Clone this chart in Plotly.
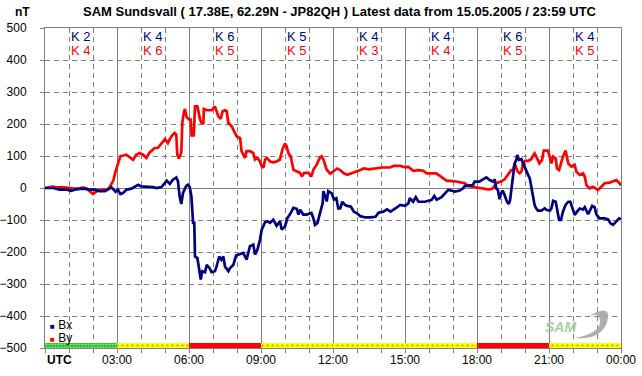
import plotly.graph_objects as go

# ---------------- data ----------------
by_hours = [0, 0.3, 0.45, 0.8, 1.2, 1.4, 1.6, 1.75, 2.0, 2.2, 2.4, 2.6, 2.7, 2.76, 2.85, 2.94, 3.0, 3.07, 3.14,
            3.39, 3.53, 3.67, 3.8, 3.94, 4.08, 4.22, 4.36, 4.57, 4.7, 4.85, 5.0, 5.12, 5.26, 5.4, 5.47, 5.51,
            5.58, 5.68, 5.72, 5.78, 5.83, 5.9, 6.0, 6.07, 6.11, 6.2, 6.25, 6.35, 6.39, 6.46, 6.53, 6.6, 6.62,
            6.74, 6.95, 7.08, 7.15, 7.22, 7.32, 7.4, 7.5, 7.57, 7.64, 7.78, 7.88, 7.99, 8.13, 8.19, 8.33, 8.4,
            8.54, 8.68, 8.75, 8.85, 8.96, 9.03, 9.1, 9.17, 9.24, 9.38, 9.51, 9.65, 9.79, 9.9, 10.0, 10.07,
            10.14, 10.24, 10.35, 10.49, 10.63, 10.7, 10.8, 10.97, 11.1, 11.18, 11.32, 11.46, 11.53, 11.6,
            11.74, 11.88, 12.0, 12.18, 12.3, 12.45, 12.6, 12.75, 12.94, 13.14, 13.28, 13.5, 13.77, 14.04,
            14.38, 14.52, 14.8, 15.0, 15.14, 15.35, 15.55, 15.76, 15.9, 16.1, 16.3, 16.45, 16.6, 16.73,
            17.08, 17.35, 17.49, 17.63, 17.9, 18.18, 18.45, 18.53, 18.67, 18.8, 19.0, 19.15, 19.3, 19.43,
            19.5, 19.57, 19.64, 19.7, 19.78, 19.85, 19.92, 20.0, 20.13, 20.26, 20.33, 20.4, 20.47, 20.54,
            20.6, 20.71, 20.78, 20.96, 21.03, 21.1, 21.17, 21.28, 21.33, 21.42, 21.5, 21.58, 21.69, 21.8,
            21.93, 22.07, 22.14, 22.28, 22.42, 22.49, 22.56, 22.69, 22.83, 23.04, 23.18, 23.32, 23.53,
            23.67, 23.8, 23.94, 24.0]
by_values = [0, 4, 3, 2, -2, -2, 2, -3, -19, -8, -5, -5, 3, 13, 24, 52, 66, 88, 99,
             104, 97, 88, 104, 109, 104, 94, 111, 125, 125, 140, 153, 140, 161, 172, 167, 104,
             92, 111, 203, 234, 247, 222, 214, 214, 164, 164, 255, 255, 242, 214, 203, 203, 247,
             243, 243, 255, 240, 224, 216, 240, 243, 240, 203, 193, 177, 161, 156, 115, 94, 115,
             115, 109, 89, 94, 83, 68, 63, 89, 94, 83, 80, 83, 89, 122, 139, 130,
             109, 99, 57, 52, 47, 36, 47, 47, 36, 57, 73, 96, 99, 89,
             57, 45, 52, 61, 56, 46, 41, 46, 51, 56, 61, 58, 61, 64,
             64, 69, 69, 65, 66, 54, 56, 54, 46, 46, 46, 38, 30, 23,
             21, 18, 15, 6, 2, -1, -4, -4, -1, 15, 20, 27, 41, 56,
             56, 77, 62, 51, 46, 51, 77, 85, 85, 90, 100, 108, 98, 88,
             77, 88, 117, 117, 98, 77, 98, 92, 61, 56, 77, 98, 117, 77,
             67, 72, 51, 41, 46, 35, 9, -1, 4, -6, 4, 15, 17,
             20, 25, 15, 8]

bx_hours = [0, 0.35, 0.5, 0.6, 0.9, 1.1, 1.25, 1.44, 1.7, 1.85, 2.07, 2.28, 2.5, 2.63, 2.77, 2.86, 2.94, 3.04,
            3.14, 3.25, 3.4, 3.6, 3.74, 3.88, 4.0, 4.22, 4.5, 4.64, 4.85, 5.0, 5.07, 5.2, 5.33, 5.47, 5.54,
            5.61, 5.68, 5.75, 5.82, 5.89, 5.96, 6.03, 6.1, 6.17, 6.22, 6.25, 6.35, 6.43, 6.49, 6.55, 6.67,
            6.74, 6.85, 6.94, 7.08, 7.15, 7.26, 7.35, 7.43, 7.5, 7.64, 7.71, 7.85, 7.96, 8.1, 8.26, 8.4,
            8.47, 8.54, 8.68, 8.75, 8.85, 8.96, 9.03, 9.17, 9.27, 9.38, 9.51, 9.65, 9.79, 9.86, 10.0, 10.1,
            10.2, 10.35, 10.49, 10.56, 10.63, 10.76, 10.9, 11.1, 11.18, 11.25, 11.35, 11.46, 11.57, 11.6,
            11.74, 11.8, 11.94, 12.04, 12.14, 12.22, 12.3, 12.39, 12.5, 12.6, 12.74, 12.87, 13.0, 13.14,
            13.35, 13.56, 13.77, 13.9, 14.1, 14.25, 14.4, 14.6, 14.8, 15.0, 15.14, 15.2, 15.34, 15.45,
            15.56, 15.7, 15.83, 15.97, 16.1, 16.22, 16.32, 16.52, 16.66, 16.8, 16.94, 17.08, 17.28, 17.42,
            17.49, 17.63, 17.83, 17.9, 18.1, 18.25, 18.39, 18.53, 18.67, 18.74, 18.8, 18.87, 18.94, 19.0,
            19.07, 19.15, 19.25, 19.33, 19.38, 19.43, 19.5, 19.57, 19.64, 19.68, 19.75, 19.85, 19.92, 20.03,
            20.13, 20.2, 20.26, 20.33, 20.4, 20.47, 20.54, 20.68, 20.82, 20.92, 21.03, 21.1, 21.17, 21.28,
            21.33, 21.42, 21.5, 21.58, 21.69, 21.8, 21.89, 21.97, 22.07, 22.17, 22.28, 22.42, 22.49, 22.63,
            22.7, 22.8, 22.9, 22.97, 23.1, 23.32, 23.46, 23.56, 23.67, 23.8, 23.92, 24.0]
bx_values = [0, 0, -3, -5, -5, -9, -5, -3, -3, -5, -5, -10, -10, -3, 2, -5, -12, -5,
             -19, -16, -5, -2, 5, 10, 5, 5, 3, 0, 3, 16, 23, 13, 26, 33, 21,
             -26, -50, -15, -2, 7, 10, 3, -26, -109, -109, -214, -219, -255, -286, -260, -263,
             -240, -250, -263, -260, -245, -214, -224, -214, -245, -260, -250, -240, -211, -208, -203, -224,
             -203, -182, -177, -208, -193, -161, -130, -107, -104, -109, -99, -118, -104, -130, -120, -94,
             -83, -62, -65, -83, -68, -83, -83, -78, -94, -115, -109, -73, -47, -10,
             -42, -10, -16, -36, -32, -64, -64, -43, -53, -56, -58, -74, -79, -88,
             -92, -92, -90, -77, -74, -67, -74, -64, -53, -56, -48, -32, -43, -29,
             -43, -43, -43, -40, -38, -25, -37, -29, -19, -6, -8, -11, -8, -1,
             6, 7, 9, 20, 20, 27, 33, 25, 20, 27, -1, -6, -35, -17,
             -8, -22, -43, -50, -37, -6, 41, 77, 88, 103, 88, 90, 77, 56,
             41, 30, 4, -32, -53, -64, -71, -71, -64, -69, -71, -64, -40, -43,
             -69, -100, -100, -74, -53, -43, -43, -60, -84, -74, -64, -67, -60, -82,
             -72, -56, -60, -82, -95, -95, -98, -110, -115, -105, -95, -98]

k_centers = [1.5, 4.5, 7.5, 10.5, 13.5, 16.5, 19.5, 22.5]
k_bx = [2, 4, 6, 5, 4, 4, 6, 4]
k_by = [4, 6, 5, 5, 3, 4, 5, 5]
activity = ["quiet", "unsettled", "storm", "unsettled", "unsettled", "unsettled", "storm", "unsettled"]

tick_hours = [0, 3, 6, 9, 12, 15, 18, 21, 24]
tick_labels = ["", "03:00", "06:00", "09:00", "12:00", "15:00", "18:00", "21:00", "00:00"]

# ---------------- style ----------------
FONT = "Liberation Sans, Arial, sans-serif"
GRID = "#808080"
NAVY = "#000080"
RED = "#ff0000"
strip_style = {
    "quiet": dict(bg="#00b800", fg="#006400", shape=".", size=3, sol=0.55),
    "unsettled": dict(bg="#ffff00", fg="#ff0000", shape=".", size=5, sol=0.15),
    "storm": dict(bg="#ff0000", fg="#ff0000", shape="", size=5, sol=0.3),
}
STRIP_BASE = -500
STRIP_H = 16

fig = go.Figure()

fig.add_trace(go.Bar(
    x=k_centers, y=[STRIP_H] * len(activity), base=STRIP_BASE, width=3,
    marker=dict(
        color=[strip_style[a]["bg"] for a in activity],
        line=dict(width=0),
        pattern=dict(
            shape=[strip_style[a]["shape"] for a in activity],
            fgcolor=[strip_style[a]["fg"] for a in activity],
            bgcolor=[strip_style[a]["bg"] for a in activity],
            size=[strip_style[a]["size"] for a in activity],
            solidity=[strip_style[a]["sol"] for a in activity],
        ),
    ),
    showlegend=False, hoverinfo="skip",
))

fig.add_trace(go.Scatter(x=by_hours, y=by_values, mode="lines", name="By",
                         line=dict(color=RED, width=2.7), showlegend=False))
fig.add_trace(go.Scatter(x=bx_hours, y=bx_values, mode="lines", name="Bx",
                         line=dict(color=NAVY, width=2.7), showlegend=False))

annotations = []
for xc, kb, ky in zip(k_centers, k_bx, k_by):
    annotations.append(dict(x=xc, y=472, xref="x", yref="y", text=f"K {kb}", showarrow=False,
                            font=dict(family=FONT, size=13, color=NAVY)))
    annotations.append(dict(x=xc, y=431, xref="x", yref="y", text=f"K {ky}", showarrow=False,
                            font=dict(family=FONT, size=13, color=RED)))

annotations += [
    dict(x=0.512, y=1.05, xref="paper", yref="paper", yanchor="middle", showarrow=False,
         text="<b>SAM Sundsvall ( 17.38E, 62.29N - JP82QH ) Latest data from 15.05.2005 / 23:59 UTC</b>",
         font=dict(family=FONT, size=13, color="black")),
    dict(x=-0.056, y=1.05, xref="paper", yref="paper", yanchor="middle", showarrow=False, text="<b>nT</b>",
         font=dict(family=FONT, size=12, color="black")),
    dict(x=0.0, y=-0.0375, xref="paper", yref="paper", xanchor="left", yanchor="middle", showarrow=False,
         text="<b>UTC</b>", font=dict(family=FONT, size=12, color="black")),
    dict(x=0.006, y=0.072, xref="paper", yref="paper", xanchor="left", yanchor="middle", showarrow=False,
         text=f"<span style='color:{NAVY};font-size:8px'>■</span> Bx",
         font=dict(family=FONT, size=12, color="black")),
    dict(x=0.006, y=0.031, xref="paper", yref="paper", xanchor="left", yanchor="middle", showarrow=False,
         text=f"<span style='color:{RED};font-size:8px'>■</span> By",
         font=dict(family=FONT, size=12, color="black")),
    dict(x=0.925, y=0.065, xref="paper", yref="paper", yanchor="middle", showarrow=False,
         text="<i><b>SAM</b></i>", font=dict(family=FONT, size=14, color="#a8cfa0")),
]

shapes = [dict(type="path", xref="paper", yref="paper", layer="above",
               path="M 0.9375,0.09375 Q 0.9896,0.15 0.9740,0.0719 Q 0.9601,0.025 0.9201,0.03125 "
                    "Q 0.9635,0.0469 0.9635,0.0813 Q 0.9635,0.1188 0.9375,0.09375 Z",
               fillcolor="#a0a0a0", line=dict(width=0), opacity=0.85)]

fig.update_layout(
    width=642, height=376,
    margin=dict(l=45, r=21, t=28, b=28, autoexpand=False),
    paper_bgcolor="white", plot_bgcolor="white",
    font=dict(family=FONT, size=12, color="black"),
    annotations=annotations, shapes=shapes,
    bargap=0,
)
fig.update_xaxes(
    range=[0, 24], tickvals=tick_hours, ticktext=tick_labels,
    showgrid=True, gridcolor=GRID, gridwidth=1,
    showline=True, linecolor=GRID, linewidth=1, mirror=True,
    ticks="outside", ticklen=1, tickcolor=GRID,
    minor=dict(dtick=1, showgrid=True, gridcolor=GRID, griddash="5px,4px", ticks="outside", ticklen=4, tickcolor=GRID),
    zeroline=False, fixedrange=True, automargin=False,
    tickfont=dict(family=FONT, size=12, color="black"),
)
fig.update_yaxes(
    range=[-500, 500], dtick=100, tick0=0,
    showgrid=True, gridcolor=GRID, gridwidth=1, griddash="5px,4px",
    zeroline=True, zerolinecolor=GRID, zerolinewidth=1,
    showline=True, linecolor=GRID, linewidth=1, mirror=True,
    ticks="outside", ticklen=4, tickcolor=GRID, ticklabelstandoff=11,
    fixedrange=True, automargin=False,
    tickfont=dict(family=FONT, size=12, color="black"),
)

fig.write_html("out.html", config={"displayModeBar": False},
               post_script="document.body.style.margin='0';document.body.style.padding='0';")
